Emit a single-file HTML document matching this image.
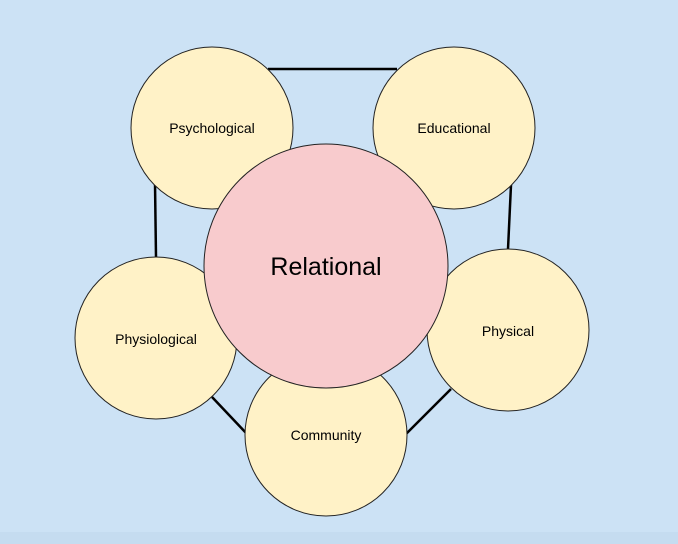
<!DOCTYPE html>
<html><head><style>
html,body{margin:0;padding:0;background:#cce2f5;}
svg{display:block}
text{font-family:"Liberation Sans",Arial,sans-serif;fill:#000;text-anchor:middle;dominant-baseline:central}
</style></head><body>
<svg width="678" height="544" viewBox="0 0 678 544">
<rect width="678" height="544" fill="#cce2f5"/>
<rect y="532" width="678" height="12" fill="#c5dcf0"/>
<g stroke="#000" stroke-width="2.5">
<line x1="268" y1="69" x2="397" y2="69"/>
<line x1="155" y1="183" x2="156" y2="257"/>
<line x1="511" y1="185" x2="508" y2="249"/>
<line x1="212" y1="397" x2="247" y2="434"/>
<line x1="406" y1="434" x2="451" y2="389"/>
</g>
<g fill="#fff2c7" stroke="#222" stroke-width="1">
<circle cx="212" cy="128" r="81"/>
<circle cx="454" cy="128" r="81"/>
<circle cx="156" cy="338" r="81"/>
<circle cx="508" cy="330" r="81"/>
<circle cx="326" cy="435" r="81"/>
</g>
<circle cx="326" cy="266" r="122" fill="#f8cbcd" stroke="#222" stroke-width="1"/>
<text x="212" y="128" font-size="14">Psychological</text>
<text x="454" y="128" font-size="14">Educational</text>
<text x="156" y="339" font-size="14">Physiological</text>
<text x="508" y="331" font-size="14">Physical</text>
<text x="326" y="435" font-size="14">Community</text>
<text x="326" y="267" font-size="25">Relational</text>
</svg>
</body></html>
